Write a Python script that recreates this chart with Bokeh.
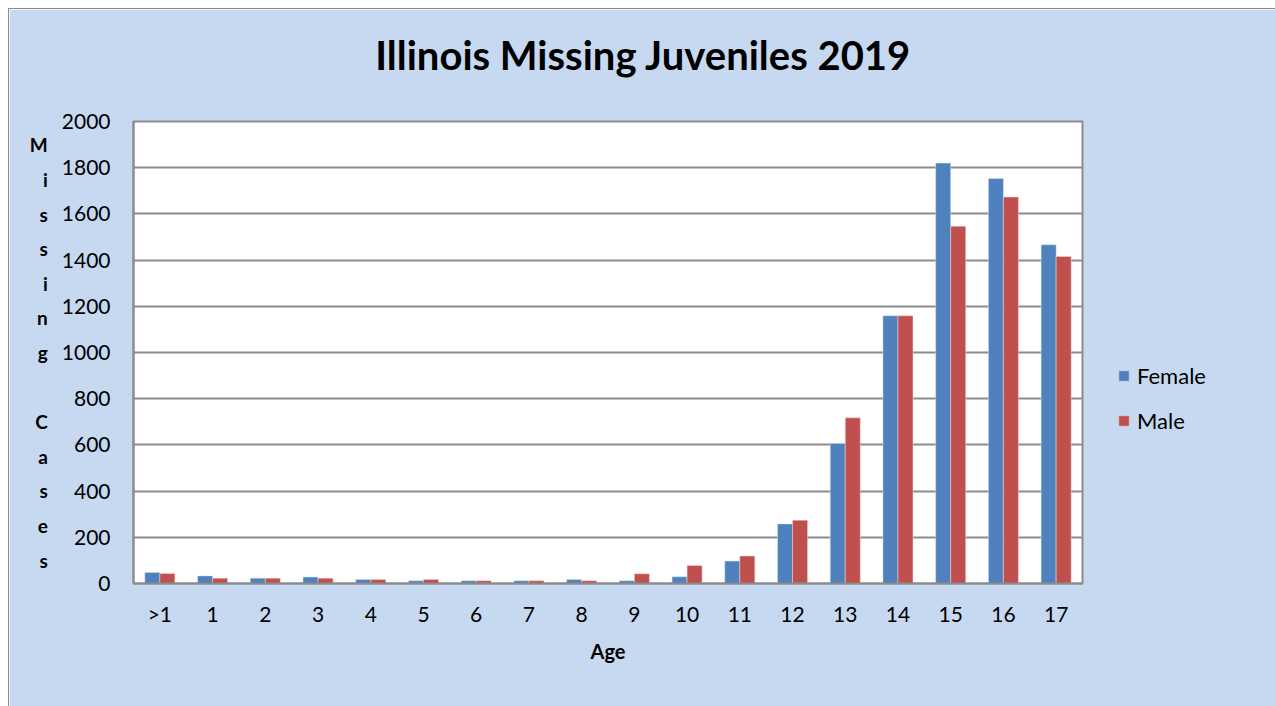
from bokeh.plotting import figure
from bokeh.models import FactorRange, Legend, LegendItem, ColumnDataSource, LinearAxis, FixedTicker
from bokeh.transform import dodge
from bokeh.embed import file_html
from bokeh.resources import INLINE

ages = [">1", "1", "2", "3", "4", "5", "6", "7", "8", "9", "10", "11", "12", "13", "14", "15", "16", "17"]
female = [48, 33, 23, 28, 17, 12, 12, 12, 17, 12, 29, 97, 258, 606, 1159, 1820, 1753, 1466]
male = [43, 23, 23, 23, 17, 17, 12, 12, 12, 42, 78, 119, 274, 717, 1159, 1547, 1673, 1416]
y_ticks = [0, 200, 400, 600, 800, 1000, 1200, 1400, 1600, 1800, 2000]

title_text = "Illinois Missing Juveniles 2019"
y_title = "M\ni\ns\ns\ni\nn\ng\n\nC\na\ns\ne\ns"
x_title = "Age"

FONT = "Lato"
BG = "#C6D9F1"
GRID = "#8C8C8C"

src = ColumnDataSource(dict(age=ages, female=female, male=male))

p = figure(frame_width=949, frame_height=462, x_range=FactorRange(factors=ages), y_range=(0, 2000),
           output_backend="svg", toolbar_location=None,
           min_border_left=124, min_border_right=193, min_border_top=112, min_border_bottom=123)
p.styles = {"margin-left": "8px", "margin-top": "8px",
            "border-left": "1px solid #8C8C8C", "border-top": "1px solid #8C8C8C"}

p.background_fill_color = "white"
p.border_fill_color = BG
p.outline_line_color = GRID
p.outline_line_width = 2

xax = p.xaxis[0]
yax = p.yaxis[0]

bf = p.vbar(x=dodge("age", -0.1425, range=p.x_range), top="female", width=0.285, source=src,
            fill_color="#4F81BD", line_color="#D9E3F0", line_width=0.5)
bm = p.vbar(x=dodge("age", 0.1425, range=p.x_range), top="male", width=0.285, source=src,
            fill_color="#C0504D", line_color="#F0D9D8", line_width=0.5)

p.xgrid.grid_line_color = None
p.ygrid.grid_line_color = GRID
p.ygrid.grid_line_width = 2
yax.ticker = y_ticks

for ax in (xax, yax):
    ax.axis_line_color = GRID
    ax.axis_line_width = 2
    ax.major_tick_line_color = None
    ax.minor_tick_line_color = None
    ax.major_label_text_font = FONT
    ax.major_label_text_font_size = "21px"
    ax.major_label_text_color = "black"
    ax.axis_label_text_font = FONT
    ax.axis_label_text_font_style = "bold"
    ax.axis_label_text_color = "black"

yax.major_label_standoff = 17
xax.major_label_standoff = 11
xax.axis_label = x_title
xax.axis_label_text_font_size = "20px"
xax.axis_label_standoff = 10

yax.axis_label = y_title
yax.axis_label_orientation = "horizontal"
yax.axis_label_text_font_size = "19px"
yax.axis_label_text_line_height = 1.505
yax.axis_label_standoff = 11

# chart title: a single centred label in the top panel
TITLE_POS = 9.67
title_axis = LinearAxis(ticker=FixedTicker(ticks=[TITLE_POS]),
                        major_label_overrides={TITLE_POS: title_text})
title_axis.axis_line_color = None
title_axis.major_tick_line_color = None
title_axis.minor_tick_line_color = None
title_axis.major_tick_out = 0
title_axis.major_tick_in = 0
title_axis.major_label_standoff = 43
title_axis.major_label_text_font = FONT
title_axis.major_label_text_font_style = "bold"
title_axis.major_label_text_font_size = "40px"
title_axis.major_label_text_color = "black"
p.add_layout(title_axis, "above")

legend = Legend(items=[LegendItem(label="Female", renderers=[bf]), LegendItem(label="Male", renderers=[bm])],
                location=(35, 149), orientation="vertical",
                label_text_font=FONT, label_text_font_size="22px", label_text_color="black",
                glyph_width=13, glyph_height=13, label_height=24, spacing=18, padding=0, margin=0,
                label_standoff=7, border_line_color=None, background_fill_alpha=0)
p.add_layout(legend, "right")

open("out.html", "w").write(file_html(p, INLINE))
